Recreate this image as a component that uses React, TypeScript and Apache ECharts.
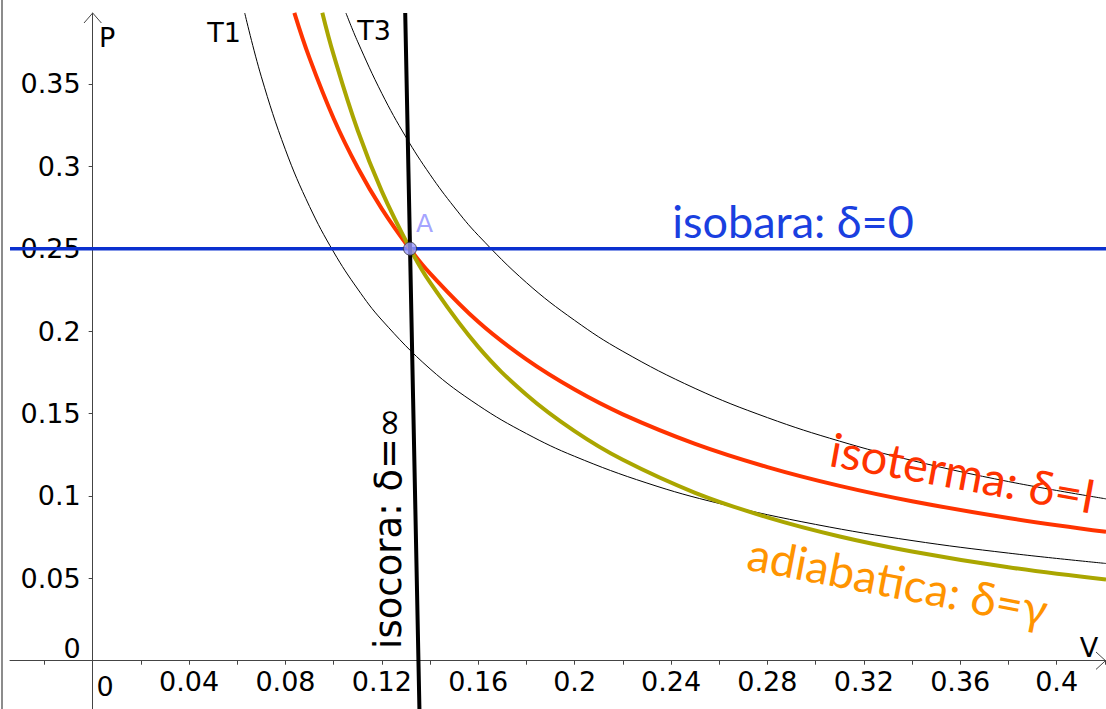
import React, { useEffect, useRef } from "react";
import * as echarts from "echarts";

// Axis ranges (V horizontal, P vertical)
const V_MIN = -0.0343;
const V_MAX = 0.4205;
const P_MIN = -0.0293;
const P_MAX = 0.393;

// Tick positions and labels
const V_TICKS = [-0.02, 0, 0.02, 0.04, 0.06, 0.08, 0.1, 0.12, 0.14, 0.16, 0.18, 0.2, 0.22, 0.24, 0.26, 0.28, 0.3, 0.32, 0.34, 0.36, 0.38, 0.4, 0.42];
const V_LABELS = [0.04, 0.08, 0.12, 0.16, 0.2, 0.24, 0.28, 0.32, 0.36, 0.4];
const P_TICKS = [0.05, 0.1, 0.15, 0.2, 0.25, 0.3, 0.35];

// Point A
const POINT_A: [number, number] = [0.1317, 0.25];

// isobara: δ=0
const ISOBARA: [number, number][] = [[-0.0343, 0.25], [0.4205, 0.25]];

// isocora: δ=∞ (nearly vertical)
const ISOCORA: [number, number][] = [[0.1297, 0.393], [0.1317, 0.25], [0.1356, -0.0293]];

// isoterma: δ=1
const ISOTERMA: [number, number][] = [
  [0.0837, 0.3931], [0.09, 0.3656], [0.1, 0.329], [0.11, 0.2991], [0.12, 0.2742],
  [0.1317, 0.2498], [0.14, 0.235], [0.16, 0.2056], [0.18, 0.1828], [0.2, 0.1645],
  [0.22, 0.1495], [0.25, 0.1316], [0.28, 0.1175], [0.31, 0.1061], [0.34, 0.0968],
  [0.38, 0.0866], [0.4205, 0.0782],
];

// adiabatica: δ=γ
const ADIABATICA: [number, number][] = [
  [0.0953, 0.3932], [0.1, 0.3676], [0.11, 0.3217], [0.12, 0.2848], [0.1317, 0.25],
  [0.14, 0.2295], [0.16, 0.1904], [0.18, 0.1614], [0.2, 0.1393], [0.22, 0.1219],
  [0.25, 0.1019], [0.28, 0.087], [0.31, 0.0754], [0.34, 0.0663], [0.38, 0.0567],
  [0.4205, 0.0492],
];

// T1 isotherm (lower)
const T1: [number, number][] = [
  [0.0631, 0.393], [0.07, 0.3543], [0.08, 0.31], [0.09, 0.2756], [0.1, 0.248],
  [0.11, 0.2255], [0.12, 0.2067], [0.14, 0.1771], [0.16, 0.155], [0.18, 0.1378],
  [0.2, 0.124], [0.23, 0.1078], [0.26, 0.0954], [0.3, 0.0827], [0.34, 0.0729],
  [0.38, 0.0653], [0.4205, 0.059],
];

// T3 isotherm (upper)
const T3: [number, number][] = [
  [0.1051, 0.393], [0.11, 0.3755], [0.12, 0.3442], [0.13, 0.3177], [0.14, 0.295],
  [0.15, 0.2753], [0.16, 0.2581], [0.18, 0.2294], [0.2, 0.2065], [0.22, 0.1877],
  [0.25, 0.1652], [0.28, 0.1475], [0.31, 0.1332], [0.34, 0.1215], [0.38, 0.1087],
  [0.4205, 0.0982],
];

const AXIS_COLOR = "#444";
const LABEL_FONT = "DejaVu Sans";
const NOTE_FONT = "Lato";

const GRID = { left: 10, right: 0, top: 13, bottom: 0 };
const W = 1106;
const H = 709;

export default function App() {
  const ref = useRef<HTMLDivElement>(null);

  useEffect(() => {
    if (!ref.current) return;
    const chart = echarts.init(ref.current, undefined, { renderer: "svg" });

    const fmt = (v: number) => String(+Number(v).toFixed(2));

    // pixel position of the zero lines (so axes can be offset there)
    const plotW = W - GRID.left - GRID.right;
    const plotH = H - GRID.top - GRID.bottom;
    const zeroX = GRID.left + ((0 - V_MIN) / (V_MAX - V_MIN)) * plotW;
    const zeroY = GRID.top + ((P_MAX - 0) / (P_MAX - P_MIN)) * plotH;
    const yOffset = -(zeroX - GRID.left);
    const xOffset = -(H - GRID.bottom - zeroY);

    const curve = (name: string, data: [number, number][], color: string, width: number, z: number) => ({
      name,
      type: "line",
      data,
      smooth: 0.4,
      showSymbol: false,
      symbol: "none",
      clip: true,
      z,
      lineStyle: { color, width },
      silent: true,
    });

    const text = (t: string, x: number, y: number, fill: string, font: string, rotation = 0, align = "center") => ({
      type: "text",
      x,
      y,
      rotation,
      z: 100,
      silent: true,
      style: { text: t, fill, font, align, verticalAlign: "middle" },
    });

    chart.setOption({
      animation: false,
      grid: { ...GRID, containLabel: false, outerBoundsMode: "none" },
      xAxis: {
        type: "value",
        position: "bottom",
        offset: xOffset,
        min: V_MIN,
        max: V_MAX,
        axisLine: { show: true, onZero: false, lineStyle: { color: AXIS_COLOR, width: 1 } },
        axisTick: { show: true, customValues: V_TICKS, length: 4, lineStyle: { color: AXIS_COLOR, width: 1 } },
        axisLabel: {
          show: true,
          customValues: V_LABELS,
          formatter: fmt,
          margin: 7,
          color: "#000",
          fontFamily: LABEL_FONT,
          fontSize: 27,
        },
        splitLine: { show: false },
      },
      yAxis: {
        type: "value",
        position: "left",
        offset: yOffset,
        min: P_MIN,
        max: P_MAX,
        axisLine: { show: true, onZero: false, lineStyle: { color: AXIS_COLOR, width: 1 } },
        axisTick: { show: true, customValues: P_TICKS, length: 4, lineStyle: { color: AXIS_COLOR, width: 1 } },
        axisLabel: {
          show: true,
          customValues: P_TICKS,
          formatter: fmt,
          margin: 12,
          color: "#000",
          fontFamily: LABEL_FONT,
          fontSize: 27,
        },
        splitLine: { show: false },
      },
      series: [
        curve("T1", T1, "#000", 1, 2),
        curve("T3", T3, "#000", 1, 2),
        curve("isobara", ISOBARA, "#0b30cf", 3.5, 3),
        curve("isoterma", ISOTERMA, "#ff3300", 4, 4),
        curve("adiabatica", ADIABATICA, "#aaa600", 4, 5),
        curve("isocora", ISOCORA, "#000", 4, 6),
        {
          name: "A",
          type: "scatter",
          data: [POINT_A],
          symbol: "circle",
          symbolSize: 13,
          z: 10,
          silent: true,
          itemStyle: { color: "#9b9bff", borderColor: "#333", borderWidth: 1 },
          label: {
            show: true,
            formatter: "A",
            position: [13, -31],
            color: "#8c8cff",
            fontFamily: LABEL_FONT,
            fontSize: 25,
          },
        },
      ],
      graphic: [
        { type: "line", shape: { x1: 2, y1: 0, x2: 2, y2: 709 }, style: { stroke: "#666", lineWidth: 1.5 }, silent: true },
        // axis arrows
        { type: "polyline", shape: { points: [[84, 23], [92.7, 13], [101.4, 23]] }, style: { stroke: AXIS_COLOR, lineWidth: 1, fill: "none" }, silent: true },
        { type: "polyline", shape: { points: [[1096, 652], [1105.5, 660.7], [1096, 669.4]] }, style: { stroke: AXIS_COLOR, lineWidth: 1, fill: "none" }, silent: true },
        // axis names and origin labels
        text("P", 99, 37, "#000", `27px "${LABEL_FONT}"`, 0, "left"),
        text("V", 1089, 647, "#000", `27px "${LABEL_FONT}"`),
        text("0", 72, 648, "#000", `27px "${LABEL_FONT}"`),
        text("0", 105, 686, "#000", `27px "${LABEL_FONT}"`),
        text("T1", 224, 32, "#000", `27px "${LABEL_FONT}"`),
        text("T3", 374, 30, "#000", `27px "${LABEL_FONT}"`),
        // curve notes
        text("isobara: δ=0", 793, 221, "#1a3fe0", `45px ${NOTE_FONT}`),
        text("isoterma: δ=I", 963, 472, "#ff3300", `47px ${NOTE_FONT}`, -0.18),
        text("adiabatica: δ=γ", 898, 581, "#ff9400", `46px ${NOTE_FONT}`, -0.19),
        text("isocora: δ=∞", 388, 528, "#000", `37px "${LABEL_FONT}"`, Math.PI / 2),
      ],
    });

    return () => chart.dispose();
  }, []);

  return (
    <div
      ref={ref}
      style={{ position: "fixed", left: 0, top: 0, width: W, height: H, background: "#fff" }}
    />
  );
}
